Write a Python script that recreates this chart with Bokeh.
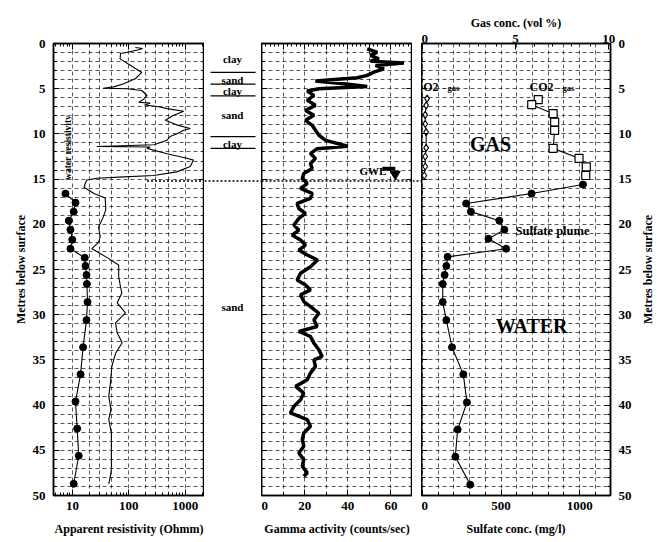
import math
from bokeh.plotting import figure
from bokeh.layouts import row
from bokeh.models import (Range1d, LinearAxis, LogAxis, FixedTicker,
                          SingleIntervalTicker)
from bokeh.embed import file_html
from bokeh.resources import INLINE
from bokeh.core.properties import value

FONT = "Liberation Serif"

# ---------------- data ----------------
# apparent resistivity log (depth m, Ohmm)
res_depth = [0.45, 0.55, 0.7, 1.0, 1.1, 1.7, 2.4, 3.2, 3.9, 4.45, 4.8, 4.95, 5.0, 5.2,
             5.75, 6.2, 6.5, 6.6, 6.8, 7.0, 7.2, 7.5, 8.0, 8.5, 9.0, 9.4, 9.6, 10.0,
             10.3, 10.7, 11.2, 11.4, 11.45, 11.6, 12.2, 12.7, 12.9, 13.6, 14.2, 14.6,
             14.75, 14.9, 15.1, 15.4, 15.9, 16.6, 17.1, 18.4, 19.4, 20.3, 21.4, 22.0,
             22.7, 23.0, 23.8, 24.5, 25.8, 26.9, 27.6, 28.7, 29.8, 30.9, 32.0, 33.1,
             34.3, 35.7, 37.6, 39.0, 40.5, 41.6, 43.1, 45.3, 47.1, 48.2, 48.7]
res_ohmm = [130, 175, 150, 90, 71, 70, 106, 170, 130, 81, 54, 35, 93, 170,
            210, 180, 150, 240, 190, 340, 475, 940, 600, 445, 700, 1230, 940, 700,
            540, 475, 280, 27, 240, 210, 475, 1070, 1400, 1230, 710, 275,
            81, 27, 18, 17, 16, 24, 38, 39, 34, 29, 31, 29,
            22, 27, 44, 66, 66, 71, 75, 62, 87, 58, 62, 76,
            58, 50, 47, 44, 48, 44, 49, 49, 49, 46, 44]

# water resistivity (depth m, Ohmm)
wat_depth = [16.6, 17.6, 18.6, 19.6, 20.6, 21.7, 22.7, 23.7, 24.6, 25.6, 26.6, 28.6,
             30.6, 33.6, 36.6, 39.6, 42.6, 45.6, 48.7]
wat_ohmm = [7.5, 11.3, 10.5, 8.6, 9.2, 9.9, 9.2, 16.5, 17, 17.7, 18, 18.5,
            17.7, 15.4, 13.9, 11.3, 12.1, 12.9, 10.5]

# gamma activity (depth m, counts/sec)
gam_depth = [0.59, 0.96, 1.32, 1.69, 1.95, 2.17, 2.43, 2.80, 3.16, 3.53, 3.79, 4.16,
             4.45, 4.75, 5.00, 5.26, 5.74, 6.29, 6.84, 7.40, 7.95, 8.50, 9.05, 9.60,
             10.15, 10.71, 11.37, 11.63, 12.18, 12.73, 13.28, 13.83, 14.39, 14.94,
             15.49, 16.04, 16.59, 17.14, 17.70, 18.25, 18.80, 19.35, 20.09, 20.64,
             21.19, 21.74, 22.30, 22.85, 23.40, 23.95, 24.69, 25.42, 26.16, 26.71,
             27.26, 27.81, 28.55, 29.10, 29.84, 30.57, 31.31, 31.86, 32.41, 33.15,
             33.88, 34.62, 34.99, 35.72, 36.46, 37.19, 37.93, 38.67, 39.40, 40.14,
             40.87, 41.61, 42.35, 43.08, 43.82, 44.55, 45.29, 46.03, 46.76, 47.50,
             47.86]
gam_cps = [49.0, 53.6, 50.5, 54.4, 50.5, 66.0, 52.9, 56.7, 52.1, 49.0, 44.4, 25.0,
           38.2, 49.0, 26.6, 21.2, 24.3, 21.2, 25.0, 20.4, 24.3, 20.4, 23.5, 25.0,
           26.6, 29.7, 40.0, 25.8, 22.7, 25.0, 22.7, 23.5, 19.6, 18.9,
           21.2, 18.1, 23.5, 22.7, 16.5, 17.3, 20.4, 17.3, 15.0, 17.3,
           14.2, 18.1, 20.4, 17.3, 21.2, 26.0, 22.7, 18.1, 16.5, 20.4,
           22.7, 18.1, 19.6, 22.7, 26.6, 24.3, 25.8, 17.3, 22.7, 24.3,
           26.6, 28.1, 24.3, 25.0, 22.7, 21.2, 15.8, 19.6, 18.1, 15.0,
           13.4, 21.2, 22.7, 19.6, 18.9, 19.6, 17.3, 19.6, 18.9, 21.2,
           19.6]

# sulfate concentration (depth m, mg/l)
sul_depth = [15.6, 16.6, 17.7, 18.6, 19.6, 20.6, 21.6, 22.7, 23.6, 24.6, 25.6, 26.6,
             28.6, 30.6, 33.6, 36.6, 39.7, 42.7, 45.7, 48.8]
sul_mgl = [1021, 694, 278, 308, 489, 521, 420, 532, 160, 152, 141, 129,
           129, 152, 188, 260, 283, 224, 209, 304]

# soil gas (depth m, vol %)
co2_depth = [6.2, 6.77, 7.76, 8.7, 9.6, 11.6, 12.7, 13.65, 14.6]
co2_vol = [6.22, 5.87, 7.02, 7.1, 7.1, 7.02, 8.41, 8.8, 8.77]
o2_depth = [6.1, 6.85, 7.9, 8.9, 9.8, 11.55, 12.5, 13.6, 14.6]
o2_vol = [0.25, 0.2, 0.15, 0.15, 0.2, 0.2, 0.15, 0.15, 0.1]

# lithology column
lith_labels = ["clay", "sand", "clay", "sand", "clay", "sand"]
lith_depth = [1.7, 4.0, 5.3, 7.9, 11.1, 29.2]
lith_bounds = [3.2, 4.5, 5.8, 10.3, 11.6]

gwl_depth = 15.2

# ---------------- layout constants ----------------
TOP, BOT = 43, 45
FH = 452
H = TOP + FH + BOT
yr = Range1d(50, 0)


def style_axis(ax, labels=True):
    ax.axis_line_color = "black"
    ax.axis_line_width = 1.5
    ax.major_tick_in = 6
    ax.major_tick_out = 0
    ax.minor_tick_in = 3
    ax.minor_tick_out = 0
    ax.major_tick_line_color = "black"
    ax.minor_tick_line_color = "black"
    ax.major_label_text_font = FONT
    ax.major_label_text_font_style = "bold"
    ax.major_label_text_font_size = "13px"
    ax.major_label_text_color = "black"
    ax.major_label_standoff = 6
    ax.axis_label_text_font = FONT
    ax.axis_label_text_font_style = "bold"
    ax.axis_label_text_font_size = "12px"
    ax.axis_label_text_color = "black"
    ax.axis_label_standoff = 9
    if not labels:
        ax.major_label_text_font_size = "1px"
        ax.major_label_text_alpha = 0
        ax.major_label_standoff = 0


def style_grid(p):
    for g in (p.xgrid[0], p.ygrid[0]):
        g.grid_line_color = "black"
        g.grid_line_dash = "4 3"
        g.grid_line_alpha = 0.65
        g.grid_line_width = 1
    p.ygrid.ticker = SingleIntervalTicker(interval=1)


def base(frame_w, x_range, mb_left=0, mb_right=0, **kw):
    p = figure(width=mb_left + frame_w + mb_right, height=H, x_range=x_range,
               y_range=yr, output_backend="svg", toolbar_location=None,
               min_border_left=mb_left, min_border_right=mb_right,
               min_border_top=TOP, min_border_bottom=BOT, **kw)
    p.outline_line_color = "black"
    p.outline_line_width = 1.5
    p.background_fill_color = "white"
    p.border_fill_color = "white"
    return p


def yticker():
    return SingleIntervalTicker(interval=5, num_minor_ticks=5)


def res_ticker():
    return FixedTicker(ticks=[10, 100, 1000],
                       minor_ticks=[5, 6, 7, 8, 9, 20, 30, 40, 50, 60, 70, 80, 90,
                                    200, 300, 400, 500, 600, 700, 800, 900, 2000])


# ---------------- panel 1: resistivity ----------------
p1 = base(151, Range1d(4.6, 2200), mb_left=53, x_axis_type="log",
          x_axis_location="below", y_axis_location="left")
p1.xaxis.ticker = res_ticker()
p1.xaxis.major_label_overrides = {10: "10", 100: "100", 1000: "1000"}
p1.xaxis.axis_label = "Apparent resistivity (Ohmm)"
p1.yaxis.ticker = yticker()
p1.yaxis.axis_label = "Metres below surface"
style_axis(p1.xaxis[0])
style_axis(p1.yaxis[0])
p1.yaxis.major_label_standoff = 8
p1.yaxis.axis_label_standoff = 2
top1 = LogAxis(ticker=res_ticker())
style_axis(top1, labels=False)
p1.add_layout(top1, "above")
right1 = LinearAxis(ticker=yticker())
style_axis(right1, labels=False)
p1.add_layout(right1, "right")
style_grid(p1)
p1.xgrid.ticker = FixedTicker(ticks=[10, 20, 30, 50, 100, 200, 300, 500, 1000])

p1.line(res_ohmm, res_depth, line_color="black", line_width=1.1)
p1.line(wat_ohmm, wat_depth, line_color="black", line_width=1.1)
p1.scatter(wat_ohmm, wat_depth, marker="circle", size=7, fill_color="black",
           line_color="black")
p1.text(x=[8.2], y=[11.5], text=["water resistivity"], angle=math.pi / 2,
        text_font=value(FONT), text_font_style="bold", text_font_size="9.5px",
        text_align="center", text_baseline="middle", text_color="black")
p1.segment(x0=[210], x1=[2200], y0=[gwl_depth], y1=[gwl_depth], line_color="black",
           line_width=1.5, line_dash="2 2")

# ---------------- lithology column ----------------
pa = base(57, Range1d(0, 1), x_axis_location=None, y_axis_location=None)
pa.outline_line_color = None
pa.xgrid.visible = False
pa.ygrid.visible = False
pa.text(x=[0.49] * len(lith_labels), y=lith_depth, text=lith_labels,
        text_font=value(FONT), text_font_style="bold", text_font_size="11px",
        text_align="center", text_baseline="middle", text_color="black")
pa.segment(x0=[0.105] * len(lith_bounds), x1=[0.895] * len(lith_bounds),
           y0=lith_bounds, y1=lith_bounds, line_color="black", line_width=1.2)
pa.segment(x0=[0], x1=[1], y0=[gwl_depth], y1=[gwl_depth], line_color="black",
           line_width=1.5, line_dash="2 2")

# ---------------- panel 2: gamma ----------------
p2 = base(151, Range1d(0, 70), x_axis_location="below", y_axis_location="left")
p2.xaxis.ticker = SingleIntervalTicker(interval=20, num_minor_ticks=2)
p2.xaxis.axis_label = "Gamma activity (counts/sec)"
style_axis(p2.xaxis[0])
p2.yaxis.ticker = yticker()
style_axis(p2.yaxis[0], labels=False)
right2 = LinearAxis(ticker=yticker())
style_axis(right2, labels=False)
p2.add_layout(right2, "right")
top2 = LinearAxis(ticker=SingleIntervalTicker(interval=10))
style_axis(top2, labels=False)
p2.add_layout(top2, "above")
style_grid(p2)
p2.xgrid.ticker = SingleIntervalTicker(interval=10)

p2.line(gam_cps, gam_depth, line_color="black", line_width=3.5)
p2.segment(x0=[0], x1=[70], y0=[gwl_depth], y1=[gwl_depth], line_color="black",
           line_width=1.5, line_dash="2 2")
p2.text(x=[45.4], y=[14.1], text=["GWL"], text_font=value(FONT),
        text_font_style="bold", text_font_size="11px", text_align="left",
        text_baseline="middle", text_color="black")
p2.segment(x0=[56], x1=[62], y0=[13.85], y1=[13.85], line_color="black", line_width=4)
p2.scatter(x=[62], y=[14.45], marker="inverted_triangle", size=10,
           fill_color="black", line_color="black")

# ---------------- spacer ----------------
ps = base(9, Range1d(0, 1), x_axis_location=None, y_axis_location=None)
ps.outline_line_color = None
ps.xgrid.visible = False
ps.ygrid.visible = False
ps.segment(x0=[0], x1=[1], y0=[gwl_depth], y1=[gwl_depth], line_color="black",
           line_width=1.5, line_dash="2 2")

# ---------------- panel 3: sulfate / gas ----------------
p3 = base(189, Range1d(-6, 1196), mb_right=28, x_axis_location="below",
          y_axis_location="right")
p3.extra_x_ranges = {"gas": Range1d(-0.05, 10.1)}
p3.xaxis.ticker = SingleIntervalTicker(interval=500, num_minor_ticks=5)
p3.xaxis.axis_label = "Sulfate conc. (mg/l)"
style_axis(p3.xaxis[0])
p3.yaxis.ticker = yticker()
style_axis(p3.yaxis[0])
p3.yaxis.major_label_standoff = 8
left3 = LinearAxis(ticker=yticker())
style_axis(left3, labels=False)
p3.add_layout(left3, "left")
top3 = LinearAxis(x_range_name="gas", axis_label="Gas conc. (vol %)",
                  ticker=SingleIntervalTicker(interval=5, num_minor_ticks=5))
style_axis(top3)
top3.major_label_standoff = 1
top3.axis_label_standoff = 2
p3.add_layout(top3, "above")
style_grid(p3)
p3.xgrid.ticker = SingleIntervalTicker(interval=100)

p3.line(sul_mgl, sul_depth, line_color="black", line_width=1.1)
p3.scatter(sul_mgl, sul_depth, marker="circle", size=7, fill_color="black",
           line_color="black")
p3.line(co2_vol, co2_depth, x_range_name="gas", line_color="black", line_width=1.1)
p3.scatter(co2_vol, co2_depth, x_range_name="gas", marker="square", size=8,
           fill_color="white", line_color="black", line_width=1.2)
p3.line(o2_vol, o2_depth, x_range_name="gas", line_color="black", line_width=1.1)
p3.scatter(o2_vol, o2_depth, x_range_name="gas", marker="diamond", size=7,
           fill_color="white", line_color="black", line_width=1.1)

txt = dict(text_font=value(FONT), text_font_style="bold", text_color="black",
           text_baseline="middle")
p3.text(x=[5, 681], y=[4.85, 4.85], text=["O2", "CO2"], text_font_size="12px",
        text_align="left", **txt)
p3.text(x=[128, 859], y=[4.95, 4.95], text=["- gas", "- gas"], text_font_size="8.5px",
        text_align="left", **txt)
p3.text(x=[433, 694], y=[11.1, 31.3], text=["GAS", "WATER"], text_font_size="20px",
        text_align="center", **txt)
p3.text(x=[592], y=[20.75], text=["Sulfate plume"], text_font_size="12.5px",
        text_align="left", **txt)

# ---------------- right-hand axis title (reads bottom to top) ----------------
pr = base(18, Range1d(0, 1), x_axis_location=None, y_axis_location=None)
pr.outline_line_color = None
pr.xgrid.visible = False
pr.ygrid.visible = False
pr.text(x=[0.5], y=[25], text=["Metres below surface"], angle=math.pi / 2,
        text_font=value(FONT), text_font_style="bold", text_font_size="12px",
        text_align="center", text_baseline="middle", text_color="black")

layout = row(p1, pa, p2, ps, p3, pr, spacing=0)
open("out.html", "w").write(file_html(layout, INLINE))
